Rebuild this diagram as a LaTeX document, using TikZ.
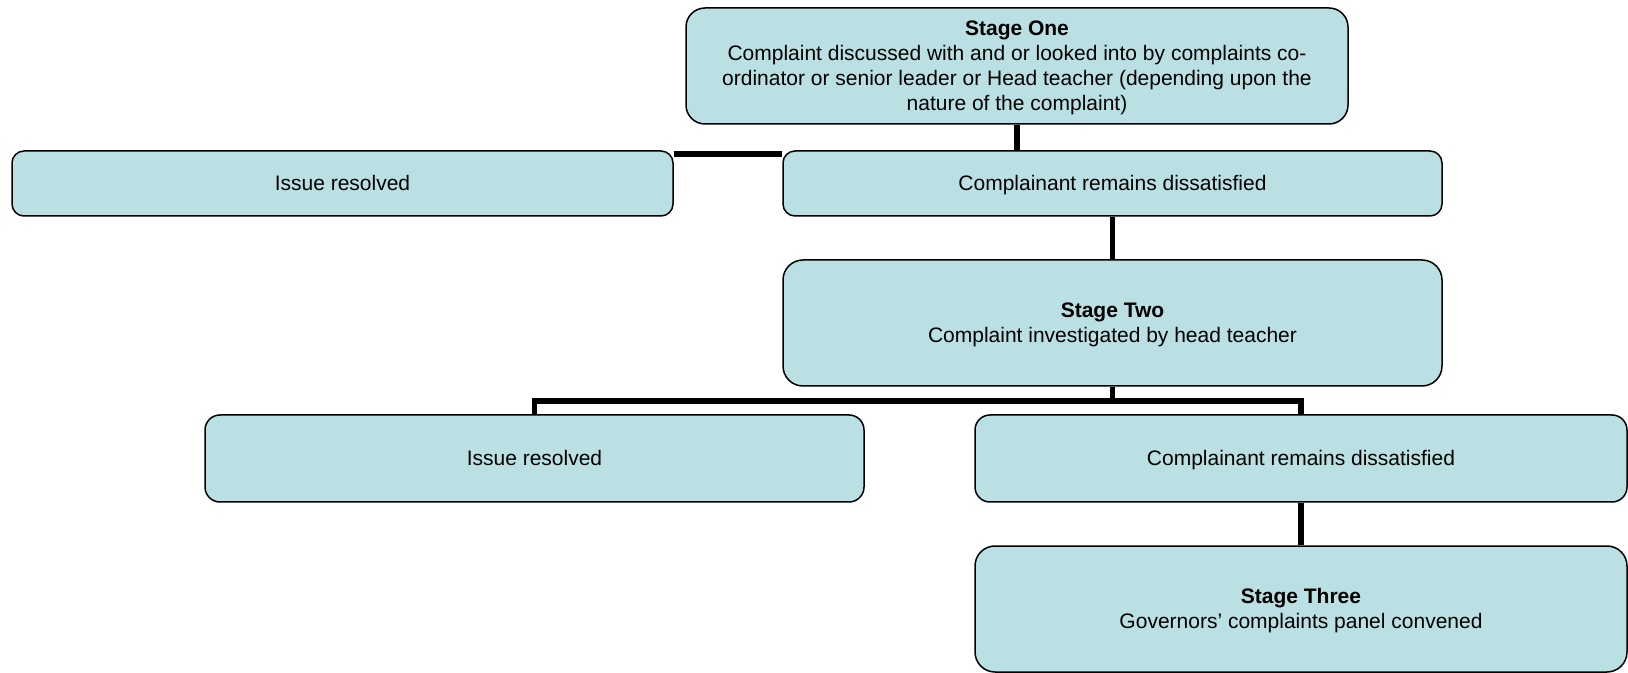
\documentclass[tikz,border=0pt]{standalone}
\usepackage{fontspec}
\setmainfont{Liberation Sans}
\usetikzlibrary{calc}
\definecolor{boxfill}{RGB}{187,224,227}
\newcommand\lnstrut{\rule[-1.5pt]{0pt}{10.5pt}}
\tikzset{
  box/.style={draw=black, line width=0.75pt, fill=boxfill, align=center,
    inner sep=0pt, font=\fontsize{10.5pt}{12.5pt}\selectfont},
  conn/.style={line width=2.9pt, draw=black, line join=miter}
}
\begin{document}
\begin{tikzpicture}[x=0.5pt, y=-0.5pt]
\useasboundingbox (0,0) rectangle (1628,673);
\node[box, minimum width=331pt, minimum height=58pt, rounded corners=9.5pt] (S1) at (1017,66)
  {\lnstrut\textbf{Stage One}\\\lnstrut Complaint discussed with and or looked into by complaints co-\\\lnstrut ordinator or senior leader or Head teacher (depending upon the\\\lnstrut nature of the complaint)};
\node[box, minimum width=330.5pt, minimum height=32.5pt, rounded corners=6pt] (IR1) at (342.5,183.5) {\lnstrut Issue resolved};
\node[box, minimum width=329.5pt, minimum height=32.5pt, rounded corners=6pt] (CD1) at (1112.5,183.5) {\lnstrut Complainant remains dissatisfied};
\node[box, minimum width=329.5pt, minimum height=63pt, rounded corners=10pt] (S2) at (1112.5,323)
  {\lnstrut\textbf{Stage Two}\\\lnstrut Complaint investigated by head teacher};
\node[box, minimum width=329.5pt, minimum height=43.5pt, rounded corners=7.5pt] (IR2) at (534.5,458.5) {\lnstrut Issue resolved};
\node[box, minimum width=326pt, minimum height=43.5pt, rounded corners=7.5pt] (CD2) at (1301,458.5) {\lnstrut Complainant remains dissatisfied};
\node[box, minimum width=326pt, minimum height=63pt, rounded corners=10pt] (S3) at (1301,609)
  {\lnstrut\textbf{Stage Three}\\\lnstrut Governors’ complaints panel convened};
% connectors
\draw[conn] (S1.south) -- (S1.south |- CD1.north);
\draw[conn] ([yshift=-1.75pt]IR1.north east) -- ([yshift=-1.75pt]CD1.north west);
\draw[conn] (CD1.south) -- (S2.north);
\coordinate (j2) at ([yshift=-7pt]S2.south);
\draw[conn] (S2.south) -- (j2);
\draw[conn] (IR2.north) |- (j2) -| (CD2.north);
\draw[conn] (CD2.south) -- (S3.north);
\end{tikzpicture}
\end{document}
